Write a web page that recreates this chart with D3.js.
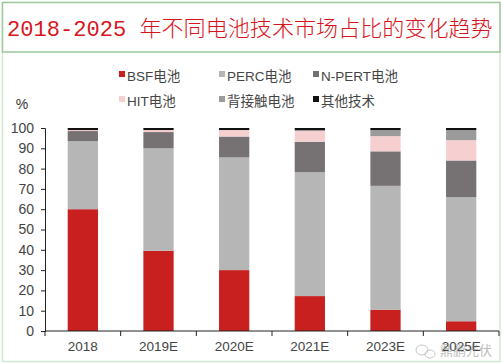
<!DOCTYPE html>
<html><head><meta charset="utf-8">
<script src="https://cdn.jsdelivr.net/npm/d3@7"></script>
<style>
html,body{margin:0;padding:0;background:#fff;}
svg{display:block;}
</style></head>
<body>
<script>
const categories = ["2018","2019E","2020E","2021E","2023E","2025E"];
const seriesNames = ["BSF电池","PERC电池","N-PERT电池","HIT电池","背接触电池","其他技术"];
const bsf   = [60, 39.5, 30, 17.2, 10.5, 4.8];
const perc  = [33.5, 50.5, 55.5, 61, 61, 61.2];
const npert = [5, 8, 10.3, 15, 17, 18];
const hit   = [0.5, 1, 3.2, 5.3, 7.5, 10];
const bc    = [0, 0, 0, 0.5, 3, 5];
const other = [1, 1, 1, 1, 1, 1];
const yTicks = [0,10,20,30,40,50,60,70,80,90,100];
const colors = ["#c8201f","#b7b6b7","#767273","#f6cfd0","#9c9b9c","#111111"];

const W = 503, H = 364;
const svg = d3.select("body").append("svg").attr("width", W).attr("height", H);

// outer frame
svg.append("rect").attr("x",2.5).attr("y",2.5).attr("width",497.5).attr("height",359)
  .attr("fill","none").attr("stroke","#d3e8d3").attr("stroke-width",1.5);
// title box
svg.append("rect").attr("x",2.5).attr("y",2.5).attr("width",497.5).attr("height",49.5)
  .attr("fill","#fff").attr("stroke","#9cc99c").attr("stroke-width",1.5);
const title = svg.append("text").attr("x",7).attr("y",36)
  .attr("fill","#d8141c").style("font-size","22px");
title.append("tspan").style("font-family","'Liberation Mono', monospace").text("2018-2025 ");
title.append("tspan").style("font-family","'Noto Sans CJK SC'").style("font-weight","300").text("年不同电池技术市场占比的变化趋势");
const tw = title.node().getComputedTextLength();
const target = 486;
if (tw > 0) {
  const s = target / tw;
  title.attr("transform", `translate(7,0) scale(${s},1) translate(-7,0)`);
}

const x = d3.scaleBand().domain(categories).range([45, 499]).paddingInner(0.6).paddingOuter(0.3);
const y = d3.scaleLinear().domain([0,100]).range([331,128]);

const data = categories.map((c,i)=>({cat:c, s0:bsf[i], s1:perc[i], s2:npert[i], s3:hit[i], s4:bc[i], s5:other[i]}));
const keys = ["s0","s1","s2","s3","s4","s5"];
const stacked = d3.stack().keys(keys)(data);

svg.append("g").selectAll("g").data(stacked).join("g")
  .attr("fill",(d,i)=>colors[i])
  .selectAll("rect").data(d=>d).join("rect")
  .attr("x",d=>x(d.data.cat)).attr("width",x.bandwidth())
  .attr("y",d=>y(Math.min(100,d[1]))).attr("height",d=>Math.max(0,y(d[0])-y(Math.min(100,d[1]))));

const fontAx = "'Liberation Sans', Arial, sans-serif";
// y axis
const ya = svg.append("g").attr("transform","translate(45,0)")
  .call(d3.axisLeft(y).tickValues(yTicks).tickSize(4).tickPadding(7));
ya.select(".domain").attr("stroke","#222");
ya.selectAll(".tick line").attr("stroke","#222");
ya.selectAll("text").style("font-family",fontAx).style("font-size","14px").attr("fill","#444");

// x axis
const xa = svg.append("g").attr("transform","translate(0,331)")
  .call(d3.axisBottom(x).tickSize(0).tickPadding(10));
xa.select(".domain").attr("stroke","#222").attr("d","M45,0H499");
xa.selectAll("text").style("font-family",fontAx).style("font-size","13.5px").attr("fill","#444");
// boundary ticks
const step = x.step();
const bounds = d3.range(categories.length+1).map(i=>45+i*step);
xa.selectAll(".btick").data(bounds).join("line").attr("class","btick")
  .attr("x1",d=>d).attr("x2",d=>d).attr("y1",0).attr("y2",5).attr("stroke","#222");

svg.append("text").attr("x",22).attr("y",109).attr("text-anchor","middle")
  .style("font-family",fontAx).style("font-size","14px").attr("fill","#333").text("%");

// legend
const legPos = [[119,76],[219,76],[313,76],[119,101],[219,101],[313,101]];
const leg = svg.append("g").selectAll("g").data(seriesNames).join("g")
  .attr("transform",(d,i)=>`translate(${legPos[i][0]},${legPos[i][1]})`);
leg.append("rect").attr("x",0).attr("y",-5).attr("width",6).attr("height",6).attr("fill",(d,i)=>colors[i]);
leg.append("text").attr("x",8).attr("y",4.5)
  .style("font-family","'Liberation Sans', 'Noto Sans CJK SC', sans-serif").style("font-size","13.5px")
  .attr("fill","#444").text(d=>d);

// watermark
const wm = svg.append("g").attr("opacity",0.55);
wm.append("ellipse").attr("cx",422).attr("cy",350).attr("rx",6).attr("ry",5).attr("fill","none").attr("stroke","#999");
wm.append("ellipse").attr("cx",430).attr("cy",354).attr("rx",5).attr("ry",4).attr("fill","none").attr("stroke","#999");
wm.append("text").attr("x",440).attr("y",355)
  .style("font-family","'Noto Sans CJK SC'").style("font-size","13px").attr("fill","#888").text("鼎鹏光伏");
</script>
</body></html>
